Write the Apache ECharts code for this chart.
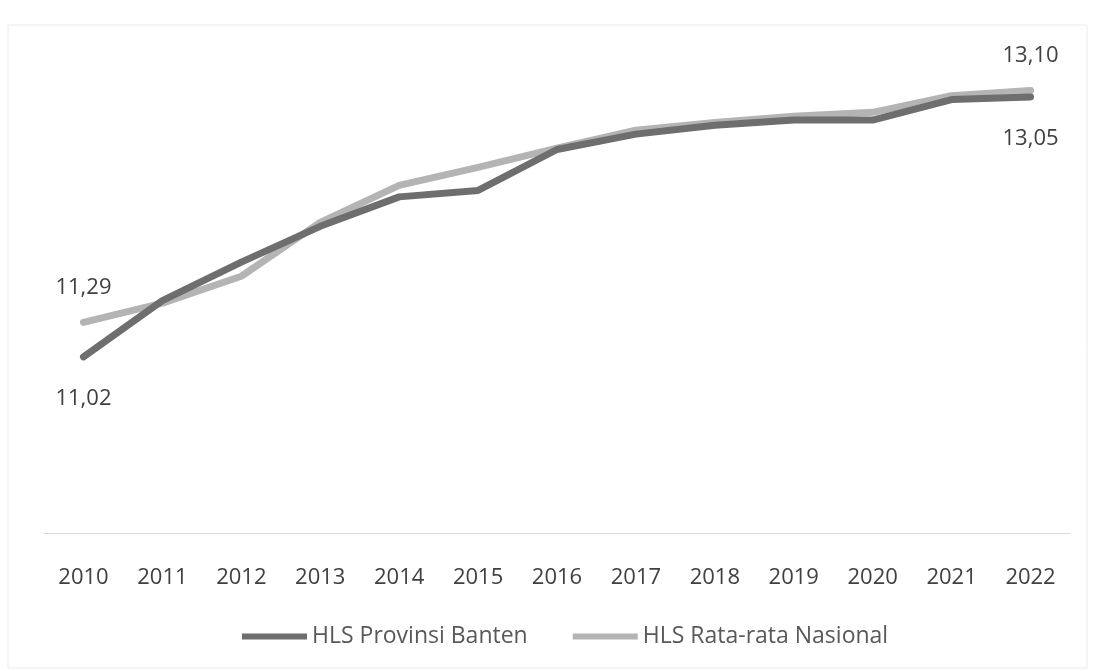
<!DOCTYPE html>
<html>
<head>
<meta charset="utf-8">
<style>
  html, body { margin: 0; padding: 0; background: #ffffff; }
  #chart { width: 1095px; height: 671px; }
</style>
<script src="https://cdn.jsdelivr.net/npm/echarts@6/dist/echarts.min.js"></script>
</head>
<body>
<div id="chart"></div>
<script>
// Harapan Lama Sekolah (HLS), 2010-2022
const years = ['2010', '2011', '2012', '2013', '2014', '2015', '2016', '2017', '2018', '2019', '2020', '2021', '2022'];
const hlsBanten = [11.02, 11.46, 11.76, 12.04, 12.27, 12.32, 12.64, 12.76, 12.83, 12.87, 12.87, 13.03, 13.05];
const hlsNasional = [11.29, 11.44, 11.65, 12.07, 12.36, 12.50, 12.65, 12.79, 12.85, 12.90, 12.93, 13.06, 13.10];
const seriesNames = ['HLS Provinsi Banten', 'HLS Rata-rata Nasional'];

const fmt = v => v.toFixed(2).replace('.', ',');

// Only the first and last point of each line carry a value label
function withEndLabels(values, position, distance) {
  return values.map((v, i) => {
    const isEnd = i === 0 || i === values.length - 1;
    return {
      value: v,
      label: {
        show: isEnd,
        position: position,
        distance: distance,
        formatter: p => fmt(p.value),
        fontFamily: 'Open Sans',
        fontSize: 22,
        color: '#404040'
      }
    };
  });
}

const chart = echarts.init(document.getElementById('chart'), null, { renderer: 'canvas' });

chart.setOption({
  backgroundColor: '#ffffff',
  animation: false,
  graphic: [{
    type: 'rect',
    shape: { x: 8, y: 25, width: 1079, height: 643 },
    style: { fill: 'none', stroke: '#ececec', lineWidth: 1 },
    silent: true,
    z: -1
  }],
  grid: { left: 44, right: 25, top: 40, bottom: 138 },
  legend: {
    left: 237,
    top: 620,
    itemWidth: 65,
    itemHeight: 6,
    itemGap: 45,
    icon: 'rect',
    textStyle: { fontFamily: 'Open Sans', fontSize: 23, color: '#595959' },
    data: seriesNames
  },
  xAxis: {
    type: 'category',
    data: years,
    boundaryGap: true,
    axisLine: { show: true, lineStyle: { color: '#d9d9d9', width: 1 } },
    axisTick: { show: false },
    axisLabel: {
      fontFamily: 'Open Sans',
      fontSize: 22,
      color: '#404040',
      margin: 34,
      interval: 0
    }
  },
  yAxis: {
    type: 'value',
    min: 9.645,
    max: 13.495,
    show: false,
    splitLine: { show: false }
  },
  series: [
    {
      name: seriesNames[0],
      type: 'line',
      data: withEndLabels(hlsBanten, 'bottom', 31),
      symbol: 'circle',
      symbolSize: 0.1,
      showSymbol: true,
      lineStyle: { color: '#6e6e6e', width: 7, cap: 'round', join: 'round' },
      itemStyle: { color: '#6e6e6e' },
      z: 3
    },
    {
      name: seriesNames[1],
      type: 'line',
      data: withEndLabels(hlsNasional, 'top', 24),
      symbol: 'circle',
      symbolSize: 0.1,
      showSymbol: true,
      lineStyle: { color: '#b4b4b4', width: 7, cap: 'round', join: 'round' },
      itemStyle: { color: '#b4b4b4' },
      z: 2
    }
  ]
});
</script>
</body>
</html>
